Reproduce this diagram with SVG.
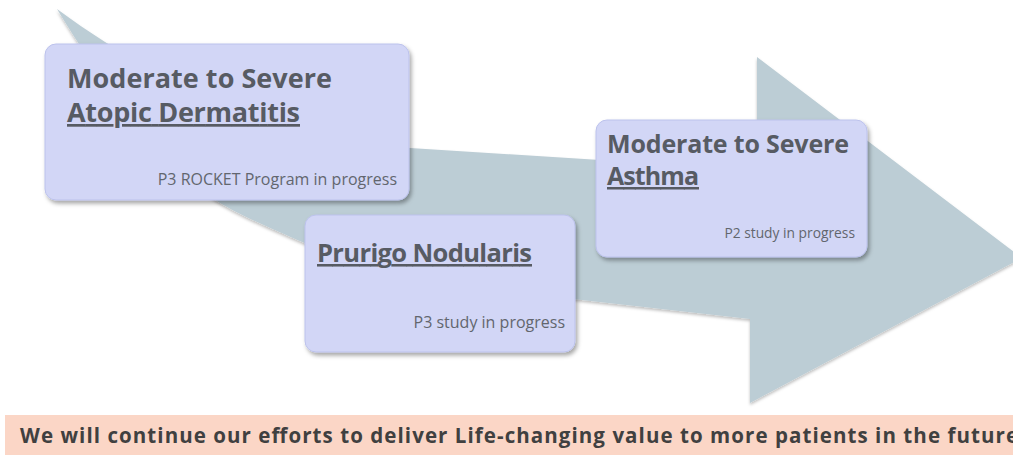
<svg xmlns="http://www.w3.org/2000/svg" width="1013" height="455" viewBox="0 0 1013 455">
  <defs>
    <filter id="shadow" x="-10%" y="-10%" width="125%" height="130%">
      <feDropShadow dx="2" dy="3" stdDeviation="2" flood-color="#000" flood-opacity="0.35"/>
    </filter>
    <filter id="ashadow" x="-5%" y="-5%" width="110%" height="115%">
      <feDropShadow dx="0" dy="2" stdDeviation="1.5" flood-color="#000" flood-opacity="0.25"/>
    </filter>
  </defs>
  <style>
    .box { fill: #d2d6f6; stroke: #bcc2ec; stroke-width: 1; filter: url(#shadow); }
    .title { font-family: "Open Sans", Lato, sans-serif; font-weight: bold; fill: #575b63; }
    .sub { font-family: "Open Sans", Lato, sans-serif; fill: #62666e; text-anchor: end; }
    .u { text-decoration: underline; }
    .banner { font-family: "Open Sans", Lato, sans-serif; font-weight: bold; fill: #404040; font-size: 20.5px; }
  </style>
  <rect width="1013" height="455" fill="#ffffff"/>
  <g id="arrow">
    <path d="M57,9 C160,85 280,140 410,148 L757,170 L757,57 L1022,258 L750,403 L750,319 L573,299 C450,282 340,262 307,244 C270,228 240,215 220,203 C160,165 100,80 57,9 Z" fill="#bccdd5" filter="url(#ashadow)"/>
  </g>
  <g id="connectors"></g>
  <g id="node-ad">
    <rect class="box" x="45" y="44" width="364" height="156" rx="11"/>
    <text class="title" x="67" y="88" font-size="27" textLength="265">Moderate to Severe</text>
    <text class="title u" x="67" y="122" font-size="27" textLength="233">Atopic Dermatitis</text>
    <text class="sub" x="397" y="185" font-size="16">P3 ROCKET Program in progress</text>
  </g>
  <g id="node-pn">
    <rect class="box" x="305" y="215" width="270" height="137" rx="11"/>
    <text class="title u" x="317" y="262" font-size="25.5" textLength="215">Prurigo Nodularis</text>
    <text class="sub" x="565" y="328" font-size="16">P3 study in progress</text>
  </g>
  <g id="node-asthma">
    <rect class="box" x="596" y="120" width="271" height="137" rx="11"/>
    <text class="title" x="607" y="153" font-size="25" textLength="242">Moderate to Severe</text>
    <text class="title u" x="607" y="185" font-size="25" textLength="92">Asthma</text>
    <text class="sub" x="855" y="238" font-size="13.8">P2 study in progress</text>
  </g>
  <g id="banner">
    <rect x="5" y="415" width="1010" height="40" fill="#fbd6c6"/>
    <text class="banner" x="20" y="443" textLength="998">We will continue our efforts to deliver Life-changing value to more patients in the future</text>
  </g>
</svg>
